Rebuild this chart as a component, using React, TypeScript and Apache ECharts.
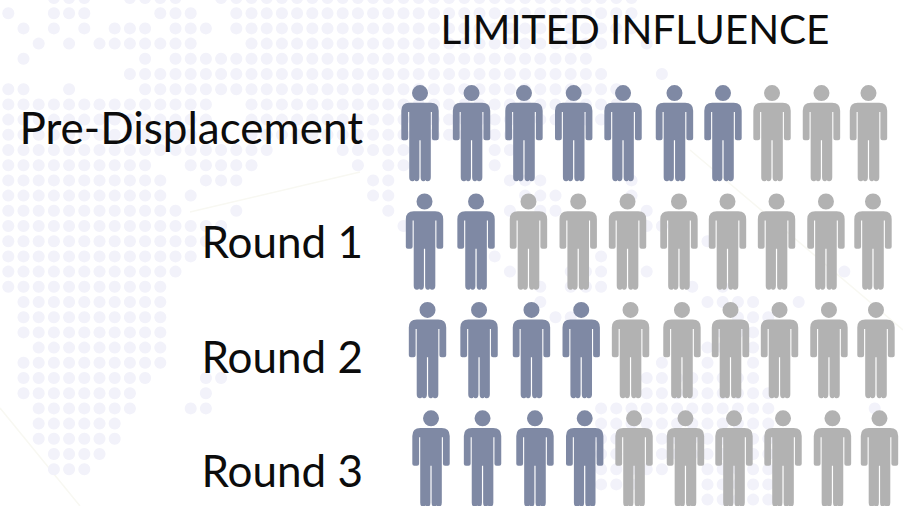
import React, { useEffect, useRef } from "react";
import * as echarts from "echarts";

// ---- Chart content ----
const titleText = "LIMITED INFLUENCE";
const rowLabels = ["Pre-Displacement", "Round 1", "Round 2", "Round 3"];
const peopleInRow = 10;
const highlightedPeople = [7, 2, 4, 4];

// ---- Faint dotted world map behind the chart: [grid row, grid columns] ----
const backdropRows: [number, string][] = [
  [0, "3-5,8-11,14-41"], [1, "0,3-5,10-12,15-41"], [2, "1,3,5,7-9,11-13,15-41"],
  [3, "2,4,6-12,16-39,42"], [4, "1,9,11-38"], [5, "8-39,43"], [6, "0,1,4,9-40"],
  [7, "0-13,16-40"], [8, "0-13,16-39"], [9, "0-12,16-33"], [10, "0-17,22-26,32,33"],
  [11, "0-9,12-16,23,25,26,32"], [12, "0-10,13-15,24,25,33-35,41"], [13, "0-10,12,24,25,34-36,41"],
  [14, "0-11,15,25,33,35,36,42"], [15, "0-14,26,42,43"], [16, "0-13,46"], [17, "0-12,32,39"],
  [18, "0-11,33,37-39,42,55"], [19, "0-10,35,37-39,45,47"], [20, "1-10,35,46-49,52"],
  [21, "1-10,36,37,48-50"], [22, "1-10,47-49"], [23, "2-10,46,47,49"], [24, "1-10,43,46,49"],
  [25, "1-9,13,14,42-49"], [26, "1-8,13,42-50"], [27, "2-8,12,13,39-41,42-50,57"],
  [28, "2-7,39-41,42-50"], [29, "2-7,39-41,43-50"], [30, "3-6,39-41,43-50"],
  [31, "3-5,39-41,42,43,46-50"], [32, "39-41,46-50"], [33, "46-50"],
];

// ---- Layout and styling ----
const W = 903;
const H = 506;
const FONT = "Lato";
const BLUE = "#7f89a4";
const GREY = "#b2b2b2";
const DOT = "#f2f2fa";
const TEXT = "#0c0c0c";
const rowShift = [0, 4.5, 7.5, 11];
const columnNudge = [0, 1.7, 4.3, 4.2, 3.7, 5.3, 4, 3.2, 2.8, 0];

const person =
  "path://M0 0A8 8 0 1 1 0 16A8 8 0 1 1 0 0Z" +
  "M-10.7 17.7L10.7 17.7Q18.7 17.7 18.7 25.7L18.7 53.3Q18.7 55.3 16.7 55.3L14 55.3Q11.9 55.3 11.9 53.3L11.9 27L10.8 27" +
  "L10.8 92.3Q10.8 96.3 7.6 96.3Q5.8 96.3 5.4 95Q5 96.3 3.4 96.3Q0.6 96.3 0.6 92.3L0.6 55.3L-0.6 55.3" +
  "L-0.6 92.3Q-0.6 96.3 -3.4 96.3Q-5 96.3 -5.4 95Q-5.8 96.3 -7.6 96.3Q-10.8 96.3 -10.8 92.3L-10.8 27L-11.9 27" +
  "L-11.9 53.3Q-11.9 55.3 -14 55.3L-16.7 55.3Q-18.7 55.3 -18.7 53.3L-18.7 25.7Q-18.7 17.7 -10.7 17.7Z";

const columnCategories = Array.from({ length: peopleInRow }, (_, i) => String(i + 1));

function expand(spec: string): number[] {
  const out: number[] = [];
  spec.split(",").forEach((part) => {
    const [a, b] = part.split("-").map(Number);
    for (let j = a; j <= (b ?? a); j++) out.push(j);
  });
  return out;
}

function peopleData(highlighted: boolean) {
  const data: any[] = [];
  rowLabels.forEach((label, row) => {
    for (let col = 0; col < peopleInRow; col++) {
      if (col < highlightedPeople[row] === highlighted) {
        data.push({
          value: [col, row],
          symbolOffset: [rowShift[row] + columnNudge[col], 0],
        });
      }
    }
  });
  return data;
}

function peopleSeries(name: string, color: string, highlighted: boolean) {
  return {
    name,
    type: "scatter",
    xAxisIndex: 0,
    yAxisIndex: 0,
    symbol: person,
    symbolSize: [37.4, 96.3],
    clip: false,
    silent: true,
    itemStyle: { color, opacity: 1 },
    data: peopleData(highlighted),
  };
}

export default function App() {
  const ref = useRef<HTMLDivElement>(null);
  useEffect(() => {
    document.body.style.margin = "0";
    document.body.style.overflow = "hidden";
    const chart = echarts.init(ref.current!, undefined, { renderer: "svg" });
    const dots: any[] = [];
    backdropRows.forEach(([i, spec]) => {
      expand(spec).forEach((j) => {
        dots.push({
          type: "circle",
          silent: true,
          shape: { cx: 8.3 + 15.2 * j, cy: -2 + 15.2 * i, r: 6 },
          style: { fill: DOT },
        });
      });
    });
    const faintLines = [
      { x1: 0, y1: 408, x2: 80, y2: 506 },
      { x1: 690, y1: 150, x2: 903, y2: 330 },
      { x1: 190, y1: 212, x2: 360, y2: 172 },
    ].map((shape) => ({
      type: "line",
      silent: true,
      shape,
      style: { stroke: "#f8f8f2", lineWidth: 1.5 },
    }));
    chart.setOption({
      animation: false,
      backgroundColor: "#ffffff",
      title: {
        text: titleText,
        left: 635,
        top: 28,
        textAlign: "center",
        textVerticalAlign: "middle",
        padding: 0,
        textStyle: { fontFamily: FONT, fontSize: 40.5, fontWeight: "normal", color: TEXT },
      },
      graphic: [{ type: "group", silent: true, z: -10, children: [...faintLines, ...dots] }],
      grid: [
        { left: 395.1, top: 79, width: 498.3, height: 433.7, containLabel: false, outerBoundsMode: "none" },
        { left: 363, top: 69.8, width: 10, height: 457.6, containLabel: false, outerBoundsMode: "none" },
      ],
      xAxis: [
        { type: "category", gridIndex: 0, show: false, data: columnCategories },
        { type: "value", gridIndex: 1, show: false },
      ],
      yAxis: [
        { type: "category", gridIndex: 0, show: false, inverse: true, data: rowLabels },
        {
          type: "category",
          gridIndex: 1,
          inverse: true,
          data: rowLabels,
          axisLine: { show: false },
          axisTick: { show: false },
          splitLine: { show: false },
          axisLabel: {
            interval: 0,
            margin: 0,
            fontFamily: FONT,
            fontSize: 44,
            color: TEXT,
            align: "right",
            verticalAlign: "middle",
          },
        },
      ],
      series: [
        peopleSeries("Limited influence", BLUE, true),
        peopleSeries("Other", GREY, false),
      ],
    });
    return () => chart.dispose();
  }, []);
  return (
    <div
      ref={ref}
      style={{ position: "absolute", left: 0, top: 0, width: W, height: H, overflow: "hidden" }}
    />
  );
}
